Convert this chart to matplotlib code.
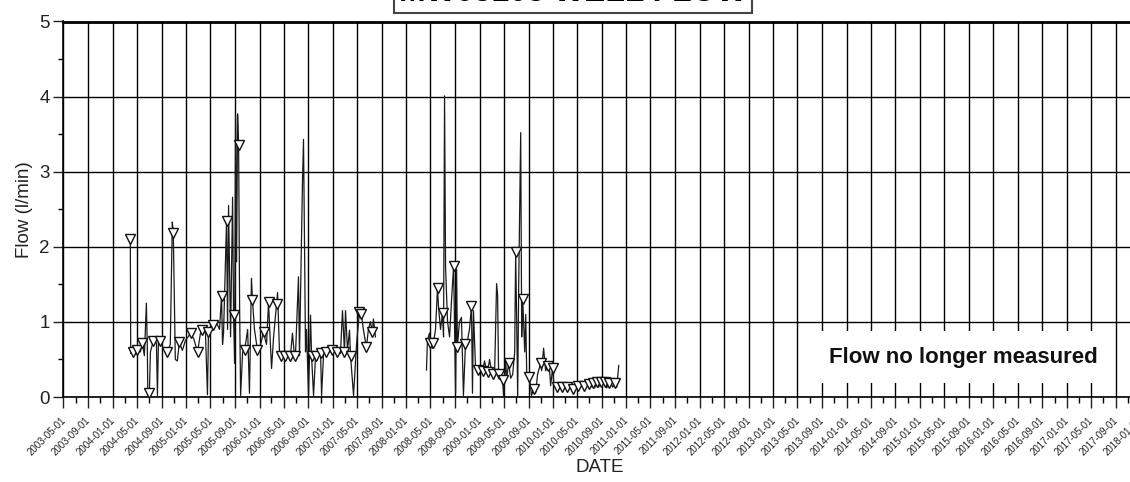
import matplotlib
matplotlib.use("Agg")
import matplotlib.pyplot as plt
import matplotlib.dates as mdates
import pandas as pd

plt.rcParams["font.family"] = ["Liberation Sans", "DejaVu Sans"]

# first measured period
seg1_dates = [
    "2004-03-29", "2004-03-31", "2004-04-13", "2004-04-23", "2004-05-03", "2004-05-18",
    "2004-05-28", "2004-06-07", "2004-06-17", "2004-06-22", "2004-06-24", "2004-07-02",
    "2004-07-07", "2004-07-22", "2004-08-06", "2004-08-11", "2004-08-16", "2004-08-26",
    "2004-09-09", "2004-09-29", "2004-10-14", "2004-10-24", "2004-10-29", "2004-11-08",
    "2004-11-18", "2004-11-28", "2004-12-13", "2004-12-28", "2005-01-23", "2005-02-07",
    "2005-02-27", "2005-03-13", "2005-03-23", "2005-04-07", "2005-04-17", "2005-04-22",
    "2005-05-02", "2005-05-17", "2005-06-01", "2005-06-16", "2005-06-26", "2005-07-01",
    "2005-07-06", "2005-07-21", "2005-07-26", "2005-07-31", "2005-08-10", "2005-08-20",
    "2005-08-25", "2005-08-30", "2005-09-04", "2005-09-09", "2005-09-14", "2005-09-19",
    "2005-09-24", "2005-09-29", "2005-10-09", "2005-10-19", "2005-11-03", "2005-11-12",
    "2005-11-22", "2005-11-27", "2005-12-07", "2005-12-22", "2006-01-06", "2006-01-21",
    "2006-02-05", "2006-02-15", "2006-02-20", "2006-03-02", "2006-03-12", "2006-03-27",
    "2006-04-01", "2006-04-11", "2006-04-16", "2006-05-01", "2006-05-10", "2006-05-25",
    "2006-06-04", "2006-06-14", "2006-06-24", "2006-06-29", "2006-07-14", "2006-07-19",
    "2006-08-03", "2006-08-08", "2006-08-13", "2006-08-18", "2006-08-23", "2006-09-02",
    "2006-09-12", "2006-09-17", "2006-09-27", "2006-10-07", "2006-10-17", "2006-11-01",
    "2006-11-06", "2006-11-16", "2006-11-26", "2006-12-16", "2006-12-30", "2007-01-14",
    "2007-01-24", "2007-02-08", "2007-02-18", "2007-02-28", "2007-03-05", "2007-03-15",
    "2007-03-25", "2007-03-30", "2007-04-14", "2007-04-29", "2007-05-13", "2007-05-23",
    "2007-06-02", "2007-06-17", "2007-06-27", "2007-07-07", "2007-07-17", "2007-07-22",
    "2007-08-01",
]
seg1_flow = [
    2.11, 0.58, 0.60, 0.57, 0.62, 0.60,
    0.72, 0.55, 1.25, 0.60, 0.05, 0.05,
    0.60, 0.75, 0.72, 0.02, 0.75, 0.75,
    0.65, 0.60, 0.70, 2.33, 2.19, 0.50,
    0.48, 0.73, 0.62, 0.75, 0.85, 0.78,
    0.60, 0.85, 0.89, 0.85, 0.03, 0.87,
    0.90, 0.96, 0.99, 0.90, 1.35, 0.70,
    0.85, 2.35, 0.90, 2.55, 0.80, 2.66,
    1.09, 0.45, 3.75, 1.80, 3.77, 3.36,
    1.20, 0.02, 0.60, 0.62, 0.90, 0.05,
    1.58, 1.29, 0.90, 0.62, 0.70, 0.86,
    0.70, 1.26, 0.95, 0.38, 0.80, 1.24,
    1.39, 0.55, 0.55, 0.58, 0.55, 0.60,
    0.55, 0.85, 0.55, 0.55, 1.60, 0.55,
    2.88, 3.43, 2.05, 0.60, 0.90, 0.02,
    1.09, 0.55, 0.02, 0.55, 0.60, 0.58,
    0.02, 0.58, 0.60, 0.60, 0.62, 0.60,
    0.60, 0.58, 1.15, 0.60, 1.15, 0.62,
    0.89, 0.55, 0.02, 0.70, 1.13, 1.10,
    0.90, 0.66, 0.90, 1.00, 0.86, 1.04,
    0.80,
]

# second measured period
seg2_dates = [
    "2008-04-11", "2008-04-16", "2008-04-26", "2008-05-01", "2008-05-11", "2008-05-16",
    "2008-05-26", "2008-06-05", "2008-06-10", "2008-06-20", "2008-06-30", "2008-07-05",
    "2008-07-10", "2008-07-15", "2008-07-25", "2008-08-04", "2008-08-14", "2008-08-24",
    "2008-08-29", "2008-09-03", "2008-09-08", "2008-09-12", "2008-09-22", "2008-10-02",
    "2008-10-12", "2008-10-22", "2008-11-01", "2008-11-11", "2008-11-21", "2008-11-26",
    "2008-12-01", "2008-12-11", "2008-12-21", "2008-12-31", "2009-01-15", "2009-01-25",
    "2009-02-04", "2009-02-09", "2009-02-19", "2009-03-01", "2009-03-06", "2009-03-16",
    "2009-03-26", "2009-03-31", "2009-04-05", "2009-04-15", "2009-04-25", "2009-04-30",
    "2009-05-10", "2009-05-15", "2009-05-25", "2009-06-04", "2009-06-14", "2009-06-24",
    "2009-06-29", "2009-07-04", "2009-07-09", "2009-07-14", "2009-07-24", "2009-07-29",
    "2009-08-03", "2009-08-13", "2009-08-18", "2009-08-23", "2009-09-02", "2009-09-11",
    "2009-09-16", "2009-09-26", "2009-10-06", "2009-10-16", "2009-10-31", "2009-11-05",
    "2009-11-15", "2009-11-25", "2009-12-05", "2009-12-15", "2009-12-20", "2009-12-30",
    "2010-01-04", "2010-01-14", "2010-01-19", "2010-02-03", "2010-02-13", "2010-02-28",
    "2010-03-10", "2010-03-25", "2010-04-09", "2010-04-24", "2010-05-04", "2010-05-18",
    "2010-06-02", "2010-06-17", "2010-06-27", "2010-07-07", "2010-07-17", "2010-07-27",
    "2010-08-06", "2010-08-16", "2010-08-26", "2010-09-05", "2010-09-15", "2010-09-25",
    "2010-10-05", "2010-10-15", "2010-10-25", "2010-11-04", "2010-11-14", "2010-11-24",
]
seg2_flow = [
    0.36, 0.76, 0.85, 0.72, 0.65, 0.72,
    0.90, 1.45, 1.20, 0.90, 1.12, 0.80,
    4.01, 1.73, 1.00, 0.80, 1.30, 1.74,
    0.90, 0.05, 1.70, 0.67, 1.00, 1.06,
    0.02, 0.70, 0.75, 0.90, 1.21, 0.05,
    1.15, 0.40, 0.36, 0.40, 0.34, 0.48,
    0.35, 0.33, 0.50, 0.35, 0.31, 0.30,
    1.51, 1.36, 0.30, 0.35, 0.22, 0.00,
    0.50, 0.25, 0.45, 0.25, 0.30, 0.60,
    1.93, 1.00, 0.00, 1.50, 3.52, 0.80,
    1.31, 0.60, 1.10, 0.30, 0.27, 0.15,
    0.02, 0.10, 0.05, 0.30, 0.45, 0.35,
    0.65, 0.35, 0.41, 0.35, 0.15, 0.39,
    0.20, 0.13, 0.13, 0.16, 0.13, 0.15,
    0.13, 0.18, 0.10, 0.15, 0.14, 0.18,
    0.15, 0.17, 0.17, 0.13, 0.18, 0.12,
    0.20, 0.13, 0.20, 0.16, 0.20, 0.12,
    0.18, 0.20, 0.13, 0.18, 0.13, 0.42,
]

# points drawn with a triangle symbol
mark_dates = [
    "2004-03-29", "2004-04-13", "2004-05-03", "2004-05-28", "2004-07-02", "2004-07-22",
    "2004-08-26", "2004-09-29", "2004-10-29", "2004-11-28", "2005-01-23", "2005-02-27",
    "2005-03-23", "2005-04-22", "2005-05-17", "2005-06-26", "2005-07-21", "2005-08-25",
    "2005-09-19", "2005-10-19", "2005-11-27", "2005-12-22", "2006-01-21", "2006-02-15",
    "2006-03-27", "2006-04-16", "2006-05-10", "2006-06-04", "2006-06-29", "2006-09-17",
    "2006-10-07", "2006-11-01", "2006-11-26", "2006-12-30", "2007-01-24", "2007-02-28",
    "2007-03-30", "2007-05-13", "2007-05-23", "2007-06-17", "2007-07-17",
    "2008-05-01", "2008-05-16", "2008-06-05", "2008-06-30", "2008-08-24", "2008-09-12",
    "2008-10-22", "2008-11-21", "2008-12-21", "2009-01-15", "2009-02-09", "2009-03-06",
    "2009-04-05", "2009-04-25", "2009-05-25", "2009-06-29", "2009-08-03", "2009-09-02",
    "2009-09-26", "2009-10-31", "2009-12-05", "2009-12-30", "2010-01-19", "2010-02-13",
    "2010-03-10", "2010-04-09", "2010-05-04", "2010-06-02", "2010-06-27", "2010-07-17",
    "2010-08-06", "2010-08-26", "2010-09-15", "2010-10-05", "2010-11-04",
]
mark_flow = [
    2.11, 0.60, 0.62, 0.72, 0.05, 0.75,
    0.75, 0.60, 2.19, 0.73, 0.85, 0.60,
    0.89, 0.87, 0.96, 1.35, 2.35, 1.09,
    3.36, 0.62, 1.29, 0.62, 0.86, 1.26,
    1.24, 0.55, 0.55, 0.55, 0.55, 0.55,
    0.55, 0.58, 0.60, 0.62, 0.60, 0.60,
    0.55, 1.13, 1.10, 0.66, 0.86,
    0.72, 0.72, 1.45, 1.12, 1.74, 0.67,
    0.70, 1.21, 0.36, 0.34, 0.33, 0.31,
    0.30, 0.22, 0.45, 1.93, 1.31, 0.27,
    0.10, 0.45, 0.41, 0.39, 0.13, 0.13,
    0.13, 0.10, 0.14, 0.15, 0.17, 0.18,
    0.20, 0.20, 0.20, 0.18, 0.18,
]

title = "MW05105 WELL FLOW"
note = "Flow no longer measured"

W, H = 1130, 482
fig = plt.figure(figsize=(W / 100, H / 100), dpi=100)
# axes runs a little past the right edge of the page, as in the original
ax = fig.add_axes([63.4 / W, 1 - 397 / H, (1152 - 63.4) / W, (397 - 21.5) / H])

line_kw = dict(color="#1a1a1a", lw=0.9, zorder=3)
ax.plot(pd.to_datetime(seg1_dates), seg1_flow, **line_kw)
ax.plot(pd.to_datetime(seg2_dates), seg2_flow, **line_kw)
ax.plot(pd.to_datetime(mark_dates), mark_flow, "v", ms=6.5, mfc="white",
        mec="#111111", mew=1.0, zorder=4)

ax.set_xlim(pd.Timestamp("2003-05-01"), pd.Timestamp("2018-03-01"))
ax.set_ylim(0, 5)

ax.xaxis.set_major_locator(mdates.MonthLocator(bymonth=[1, 5, 9], bymonthday=1))
ax.xaxis.set_minor_locator(mdates.MonthLocator(bymonth=[3, 7, 11], bymonthday=1))
ax.xaxis.set_major_formatter(mdates.DateFormatter("%Y-%m-%d"))
ax.set_yticks([0, 1, 2, 3, 4, 5])
ax.set_yticks([0.5, 1.5, 2.5, 3.5, 4.5], minor=True)

ax.grid(True, which="major", color="black", lw=1.0)
ax.set_axisbelow(True)

ax.tick_params(axis="x", which="major", direction="out", length=8, width=1.0,
               labelsize=7, pad=7, colors="#222222")
ax.tick_params(axis="x", which="minor", direction="out", length=4, width=1.0)
ax.tick_params(axis="y", which="major", direction="out", length=7, width=1.0,
               labelsize=13.5, pad=3, colors="#222222")
ax.tick_params(axis="y", which="minor", direction="out", length=3.5, width=1.0)
for lbl in ax.get_xticklabels():
    lbl.set_rotation(45)
    lbl.set_ha("right")
    lbl.set_va("center_baseline")
    lbl.set_rotation_mode("anchor")

for side in ["left", "bottom"]:
    ax.spines[side].set_linewidth(1.2)
ax.spines["top"].set_linewidth(2.0)
ax.spines["right"].set_visible(False)

ax.set_ylabel("Flow (l/min)", fontsize=13.5, color="#222222", labelpad=4)
fig.text(600 / W, 1 - 467 / H, "DATE", fontsize=13.5, color="#222222",
         ha="center", va="center")

# title box, cut off by the top of the page
fig.text(573 / W, 1 - 1 / H, title, fontsize=23, fontweight="bold",
         ha="center", va="baseline",
         bbox=dict(boxstyle="square,pad=0.15", fc="white", ec="#444444", lw=1.5))

# white panel over the grid with the note
fig.text(963 / W, 1 - 357 / H, note, fontsize=16, fontweight="bold",
         color="#111111", ha="center", va="center", zorder=10,
         bbox=dict(boxstyle="square,pad=0.7", fc="white", ec="none"))

fig.savefig("out.png", dpi=100)
